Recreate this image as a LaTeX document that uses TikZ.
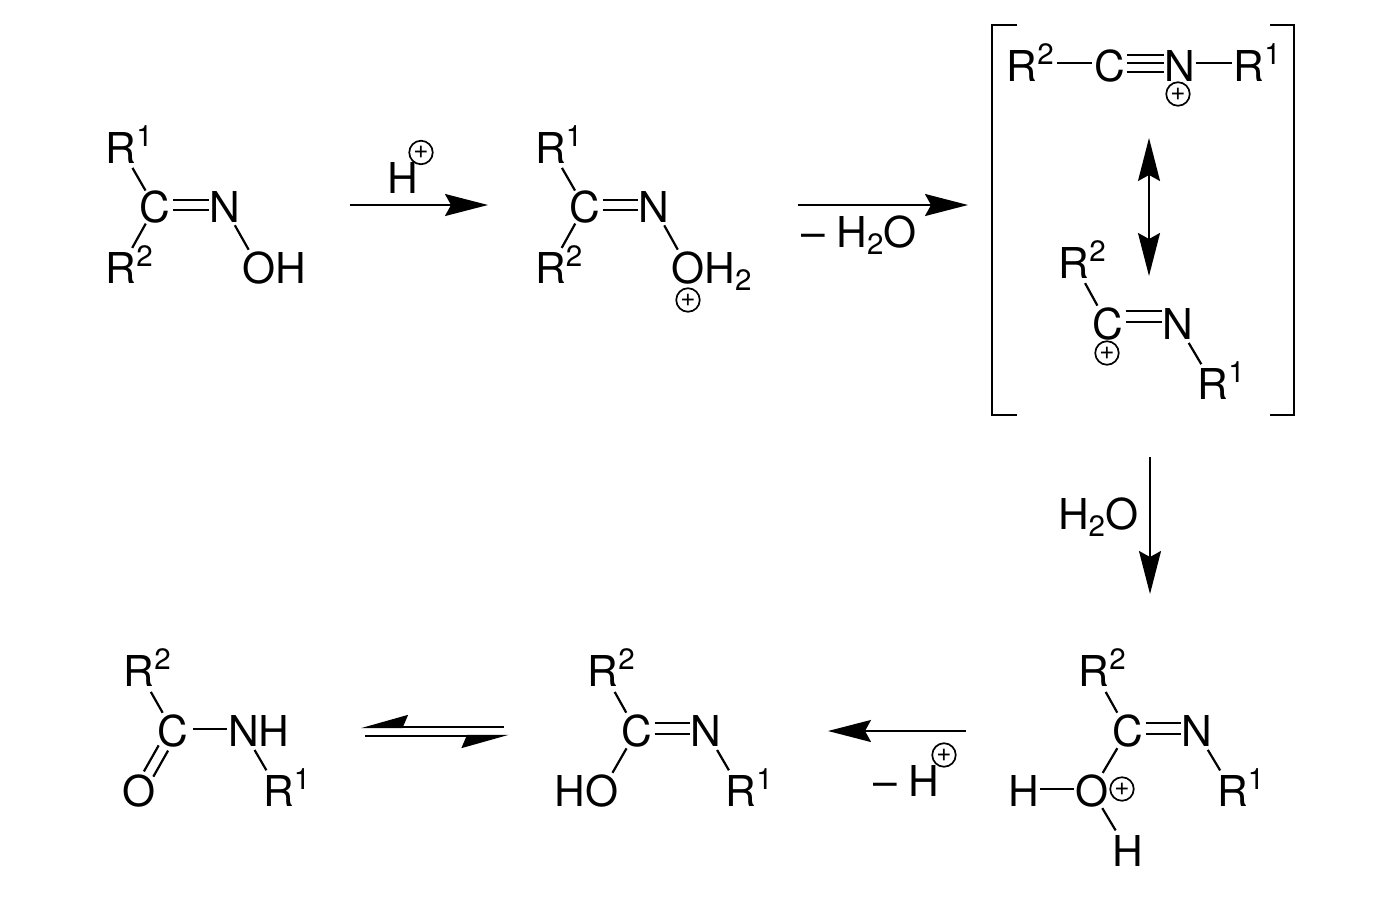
\documentclass[tikz,border=0pt]{standalone}
\usepackage{fontspec}
\setmainfont{TeX Gyre Heros}
\usetikzlibrary{arrows.meta}
\newcommand\supr[1]{\rlap{\raisebox{17pt}{\fontsize{29.5}{29.5}\selectfont #1}}}
\newcommand\subr[1]{\raisebox{-7pt}{\fontsize{29.5}{29.5}\selectfont #1}}
\tikzset{
  atom/.style={inner sep=0pt,outer sep=0pt,text height=30.5pt,text depth=0pt,font=\fontsize{42.5}{42.5}\selectfont},
  label/.style={atom,anchor=west},
  charge/.style={circle,draw=black,line width=1.7pt,minimum size=23.5pt,inner sep=0pt,font=\fontsize{26}{26}\selectfont},
  bond/.style 2 args={line width=2.2pt,shorten <=#1pt,shorten >=#2pt},
  rxn/.style={line width=1.9pt,-{Stealth[length=43pt,width=22pt,inset=6pt]}},
  both/.style={line width=1.9pt,{Stealth[length=43pt,width=22pt,inset=6pt]}-{Stealth[length=43pt,width=22pt,inset=6pt]}},
  eqm/.style={line width=2.2pt,-{Stealth[length=43pt,width=24pt,inset=5pt,harpoon,swap]}},
  brack/.style={line width=2.5pt},
}
\begin{document}
\begin{tikzpicture}[x=1pt,y=-1pt]
\useasboundingbox (0,0) rectangle (1400,900);
% molecule 1
\node[atom] (ar) at (121,148) {R\supr{1}};
\node[atom] (ac) at (155,207) {C};
\node[atom] (an) at (224.5,207) {N};
\node[atom] (as) at (121,268) {R\supr{2}};
\node[atom] (ao) at (259,268) {O\rlap{H}};
\draw[bond={19}{23}] (ac.center) -- (ar.center);
\draw[bond={19}{23}] (ac.center) -- (as.center);
\draw[bond={21}{21}] (an.center) -- (ao.center);
\draw[bond={18}{16}] ([yshift=7pt]ac.center) -- ([yshift=7pt]an.center);
\draw[bond={18}{16}] ([yshift=-3pt]ac.center) -- ([yshift=-3pt]an.center);
% arrow 1
\coordinate (a1s) at (350,205);
\coordinate (a1e) at (488,205);
\draw[rxn] (a1s) -- (a1e);
\node[atom] (hp) at (403,178) {H};
\node[charge] (hpc) at (421,152.5) {+};
% molecule 2
\node[atom] (br) at (550.5,148) {R\supr{1}};
\node[atom] (bc) at (584.5,207) {C};
\node[atom] (bn) at (654,207) {N};
\node[atom] (bs) at (550.5,268) {R\supr{2}};
\node[atom] (bo) at (688,268) {O\rlap{H\subr{2}}};
\node[charge] (boc) at (688,300) {+};
\draw[bond={19}{23}] (bc.center) -- (br.center);
\draw[bond={19}{23}] (bc.center) -- (bs.center);
\draw[bond={21}{21}] (bn.center) -- (bo.center);
\draw[bond={18}{16}] ([yshift=7pt]bc.center) -- ([yshift=7pt]bn.center);
\draw[bond={18}{16}] ([yshift=-3pt]bc.center) -- ([yshift=-3pt]bn.center);
% arrow 2
\coordinate (a2s) at (798,205);
\coordinate (a2e) at (968,205);
\draw[rxn] (a2s) -- (a2e);
\node[label] (mw) at (801,232) {– H\subr{2}O};
% bracket
\coordinate (bl1) at (1017,25);
\coordinate (bl2) at (992,25);
\coordinate (bl3) at (992,415);
\coordinate (bl4) at (1017,415);
\coordinate (br1) at (1270,25);
\coordinate (br2) at (1294,25);
\coordinate (br3) at (1294,415);
\coordinate (br4) at (1270,415);
\draw[brack] (bl1) -- (bl2) -- (bl3) -- (bl4);
\draw[brack] (br1) -- (br2) -- (br3) -- (br4);
% nitrilium
\node[atom] (cs) at (1022,66) {R\supr{2}};
\node[atom] (cc) at (1110,66) {C};
\node[atom] (cn) at (1179.5,66) {N};
\node[atom] (cr) at (1249,66) {R\supr{1}};
\node[charge] (cnc) at (1178,94) {+};
\draw[bond={35}{18}] ([yshift=3pt]cs.center) -- ([yshift=3pt]cc.center);
\draw[bond={17}{16}] ([yshift=11pt]cc.center) -- ([yshift=11pt]cn.center);
\draw[bond={17}{16}] ([yshift=3pt]cc.center) -- ([yshift=3pt]cn.center);
\draw[bond={17}{16}] ([yshift=-6pt]cc.center) -- ([yshift=-6pt]cn.center);
\draw[bond={16}{17}] ([yshift=3pt]cn.center) -- ([yshift=3pt]cr.center);
% resonance arrow
\coordinate (ra) at (1149,138);
\coordinate (rb) at (1149,276);
\draw[both] (ra) -- (rb);
% carbenium
\node[atom] (ds) at (1074,263) {R\supr{2}};
\node[atom] (dc) at (1107.5,324) {C};
\node[atom] (dn) at (1177.5,324) {N};
\node[atom] (dr) at (1213,384) {R\supr{1}};
\node[charge] (dcc) at (1107,353) {+};
\draw[bond={21}{23}] (dc.center) -- (ds.center);
\draw[bond={18}{16}] ([yshift=13pt]dc.center) -- ([yshift=13pt]dn.center);
\draw[bond={18}{16}] ([yshift=2pt]dc.center) -- ([yshift=2pt]dn.center);
\draw[bond={22}{23}] (dn.center) -- (dr.center);
% arrow 3
\coordinate (a3s) at (1150,457);
\coordinate (a3e) at (1150,594);
\draw[rxn] (a3s) -- (a3e);
\node[label] (w) at (1058,514) {H\subr{2}O};
% oxonium
\node[atom] (es) at (1094,671) {R\supr{2}};
\node[atom] (ec) at (1127.5,731) {C};
\node[atom] (en) at (1196.5,731) {N};
\node[atom] (er) at (1232.5,791) {R\supr{1}};
\node[atom] (eo) at (1092,791) {O};
\node[atom] (eh) at (1024,791) {H};
\node[atom] (ei) at (1128,851) {H};
\node[charge] (eoc) at (1122,789) {+};
\draw[bond={21}{24}] (ec.center) -- (es.center);
\draw[bond={18}{16}] ([yshift=8pt]ec.center) -- ([yshift=8pt]en.center);
\draw[bond={18}{16}] ([yshift=-3pt]ec.center) -- ([yshift=-3pt]en.center);
\draw[bond={22}{24}] (en.center) -- (er.center);
\draw[bond={20}{21}] (ec.center) -- (eo.center);
\draw[bond={18}{16}] ([yshift=2pt]eo.center) -- ([yshift=2pt]eh.center);
\draw[bond={20}{24}] (eo.center) -- (ei.center);
% arrow 4
\coordinate (a4s) at (966,731);
\coordinate (a4e) at (828,731);
\draw[rxn] (a4s) -- (a4e);
\node[label] (mh) at (873,781) {– H};
\node[charge] (mhc) at (944,755) {+};
% imidic acid
\node[atom] (fs) at (603,671) {R\supr{2}};
\node[atom] (fc) at (636.5,731) {C};
\node[atom] (fn) at (706,731) {N};
\node[atom] (fr) at (741,791) {R\supr{1}};
\node[atom] (fo) at (602,791) {\llap{H}O};
\draw[bond={21}{24}] (fc.center) -- (fs.center);
\draw[bond={18}{16}] ([yshift=8pt]fc.center) -- ([yshift=8pt]fn.center);
\draw[bond={18}{16}] ([yshift=-3pt]fc.center) -- ([yshift=-3pt]fn.center);
\draw[bond={22}{24}] (fn.center) -- (fr.center);
\draw[bond={20}{21}] (fc.center) -- (fo.center);
% equilibrium
\coordinate (e1s) at (504,727);
\coordinate (e1e) at (361,727);
\coordinate (e2s) at (365,736);
\coordinate (e2e) at (508.5,736);
\draw[eqm] (e1s) -- (e1e);
\draw[eqm] (e2s) -- (e2e);
% amide
\node[atom] (gs) at (139,671) {R\supr{2}};
\node[atom] (gc) at (173,731) {C};
\node[atom] (gn) at (243.5,731) {N\rlap{H}};
\node[atom] (gr) at (278.5,791) {R\supr{1}};
\node[atom] (go) at (139,791) {O};
\draw[bond={21}{24}] (gc.center) -- (gs.center);
\draw[bond={20}{17}] ([yshift=2pt]gc.center) -- ([yshift=2pt]gn.center);
\draw[bond={22}{24}] (gn.center) -- (gr.center);
\draw[bond={19.5}{19.5}] ([shift={(-4.7pt,2.6pt)}]gc.center) -- ([shift={(-4.7pt,2.6pt)}]go.center);
\draw[bond={19.5}{19.5}] ([shift={(4.7pt,-2.6pt)}]gc.center) -- ([shift={(4.7pt,-2.6pt)}]go.center);
\end{tikzpicture}
\end{document}
